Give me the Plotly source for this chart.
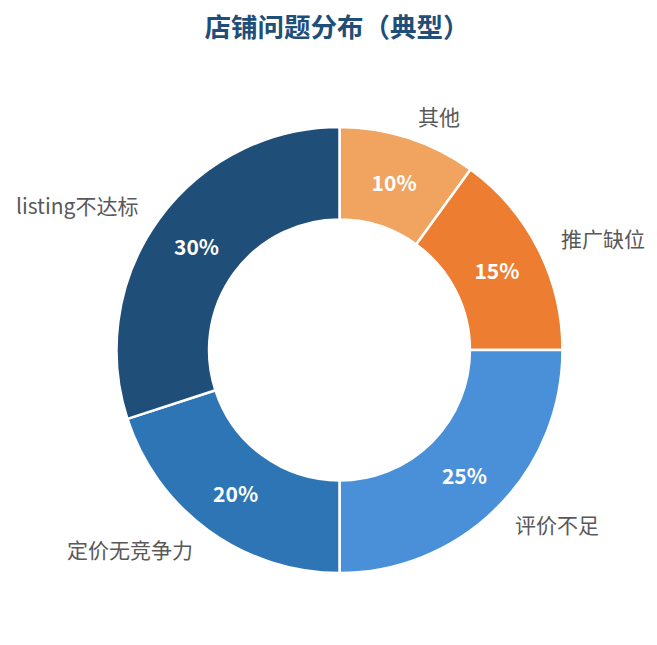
import math
import plotly.graph_objects as go

labels = ["其他", "推广缺位", "评价不足", "定价无竞争力", "listing不达标"]
values = [10, 15, 25, 20, 30]
colors = ["#F0A460", "#ED7D31", "#4A90D9", "#2E75B6", "#1F4E79"]

W, H = 657, 645
OFF = 8  # page body margin
cx, cy, R = 339.5 - OFF, 350.0 - OFF, 223.0
label_r = 246.0

fig = go.Figure()
fig.add_trace(go.Pie(
    labels=labels,
    values=values,
    sort=False,
    direction="clockwise",
    rotation=0,
    hole=0.585,
    marker=dict(colors=colors, line=dict(color="white", width=2.5)),
    texttemplate="%{value}%",
    textinfo="text",
    textposition="inside",
    insidetextorientation="horizontal",
    textfont=dict(family="Noto Sans CJK SC", size=21, color="white", weight="bold"),
    hoverinfo="label+percent",
    showlegend=False,
    domain=dict(x=[(cx - R) / W, (cx + R) / W], y=[1 - (cy + R) / H, 1 - (cy - R) / H]),
))

# outside category labels, positioned from cumulative values
total = sum(values)
cum = 0
for lab, v in zip(labels, values):
    mid = (cum + v / 2) / total * 2 * math.pi
    cum += v
    px = cx + label_r * math.sin(mid)
    py = cy - label_r * math.cos(mid)
    right = math.sin(mid) >= 0
    fig.add_annotation(
        x=px / W, y=1 - py / H, xref="paper", yref="paper",
        text=lab, showarrow=False,
        xanchor="left" if right else "right", yanchor="middle",
        font=dict(family="Noto Sans CJK SC", size=21, color="#595959"),
    )

fig.update_layout(
    width=W, height=H,
    margin=dict(l=0, r=0, t=0, b=0),
    paper_bgcolor="white",
    title=dict(
        text="<b>店铺问题分布（典型）</b>",
        x=(337 - OFF) / W, xanchor="center", y=1 - (28 - OFF) / H, yanchor="middle",
        font=dict(family="Noto Sans CJK SC", size=26.5, color="#1F4E79"),
    ),
)

fig.write_html("out.html")
